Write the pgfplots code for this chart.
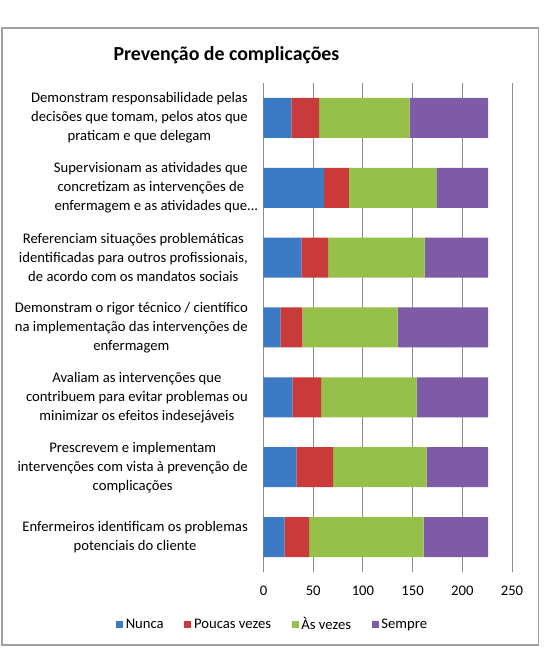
\documentclass[border=0pt]{standalone}
\usepackage{pgfplots}
\usepackage{pgfplotstable}
\pgfplotsset{compat=1.18}
\usepackage{fontspec}
\setmainfont{Carlito}

\definecolor{cNunca}{HTML}{3D7AC6}
\definecolor{cPoucas}{HTML}{C93A3A}
\definecolor{cAsVezes}{HTML}{97C04A}
\definecolor{cSempre}{HTML}{7D5BA6}
\definecolor{gridgray}{HTML}{8C8C8C}
\definecolor{framegray}{HTML}{A0A0A0}

% responses per item (row 0 = bottom bar)
\pgfplotstableread{
idx nunca poucas asvezes sempre
0 21 25 115 65
1 33 37 94 62
2 29 29 96 72
3 17 22 96 91
4 38 27 97 64
5 61 25 88 52
6 28 28 91 79
}\prevtable

\begin{document}
\begin{tikzpicture}
\begin{scope}[overlay]
\begin{axis}[
  scale only axis, width=186.375pt, height=366.75pt,
  xbar stacked, bar width=30pt,
  xmin=0, xmax=250, ymin=-0.5, ymax=6.5,
  xtick={0,50,...,250}, ytick={0,...,6},
  yticklabels={
    {Enfermeiros identificam os problemas\\potenciais do cliente},
    {Prescrevem e implementam\\intervenções com vista à prevenção de\\complicações},
    {Avaliam as intervenções que\\contribuem para evitar problemas ou\\minimizar os efeitos indesejáveis},
    {Demonstram o rigor técnico / científico\\na implementação das intervenções de\\enfermagem},
    {Referenciam situações problemáticas\\identificadas para outros profissionais,\\de acordo com os mandatos sociais},
    {Supervisionam as atividades que\\concretizam as intervenções de\\enfermagem e as atividades que\rlap{...}},
    {Demonstram responsabilidade pelas\\decisões que tomam, pelos atos que\\praticam e que delegam}
  },
  axis lines*=left,
  x axis line style={draw=none},
  y axis line style={gridgray, line width=0.75pt},
  major tick length=0pt,
  xmajorgrids, grid style={gridgray, line width=0.75pt},
  /pgf/number format/assume math mode=true,
  xticklabel style={font=\fontsize{11}{13}\selectfont, anchor=center, yshift=-13.9pt},
  yticklabel style={align=center, font=\fontsize{11}{14.25}\selectfont, inner sep=0pt, xshift=-11.6pt},
  legend columns=4,
  legend style={draw=none, at={(axis description cs:0.038,-0.108)}, anchor=center,
    font=\fontsize{11}{13}\selectfont,
    /tikz/every even column/.append style={column sep=13.5pt}},
  legend image code/.code={\fill[#1] (0pt,-2.6pt) rectangle (5.25pt,2.6pt);},
]
\addplot[fill=cNunca, draw=none] table[x=nunca, y=idx] {\prevtable};
\addplot[fill=cPoucas, draw=none] table[x=poucas, y=idx] {\prevtable};
\addplot[fill=cAsVezes, draw=none] table[x=asvezes, y=idx] {\prevtable};
\addplot[fill=cSempre, draw=none] table[x=sempre, y=idx] {\prevtable};
\legend{Nunca, Poucas vezes, Às vezes, Sempre}
\coordinate (O) at (rel axis cs:0,0);
\end{axis}
\end{scope}
% chart area, frame and title, measured from the plot's lower left corner
\begin{scope}[shift={(O)}, x=0.75pt, y=0.75pt]
\path[use as bounding box] (-263.5,-76) rectangle (282.5,572);
\draw[framegray, line width=0.9pt] (-261.5,-73) rectangle (275,544);
\node[font=\bfseries\fontsize{14.9}{17}\selectfont] at (-37,517) {Prevenção de complicações};
\end{scope}
\end{tikzpicture}
\end{document}
